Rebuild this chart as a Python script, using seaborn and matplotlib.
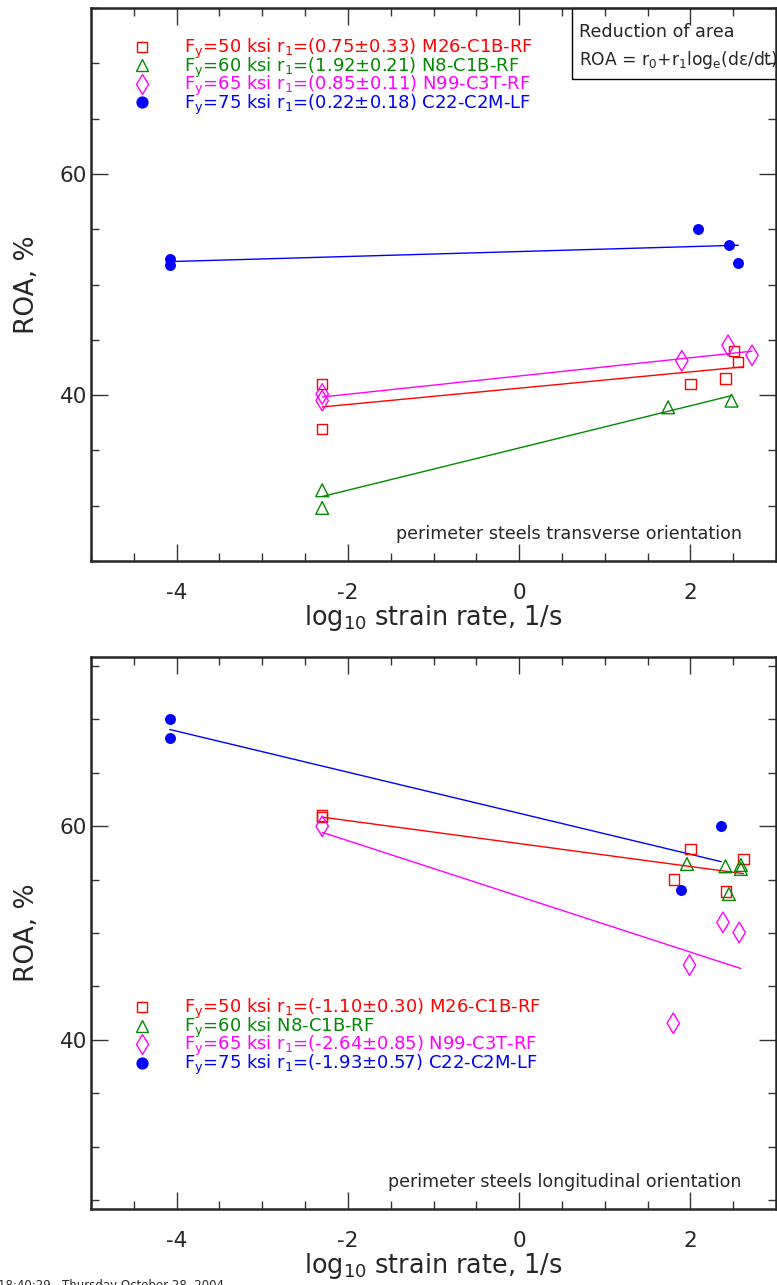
"""ROA vs log10 strain rate, perimeter steels (transverse / longitudinal)."""
import matplotlib
matplotlib.use("Agg")
import matplotlib.pyplot as plt
import seaborn as sns
from matplotlib.lines import Line2D
from matplotlib.patches import Rectangle
from matplotlib.ticker import MultipleLocator

# ---- data ----
# transverse orientation (top panel)
tr_x_50 = [-2.30, -2.30, 2.00, 2.41, 2.51, 2.56]
tr_y_50 = [40.98, 36.96, 40.98, 41.50, 44.0, 43.0]
tr_x_60 = [-2.30, -2.30, 1.74, 2.48]
tr_y_60 = [31.4, 29.8, 38.9, 39.5]
tr_x_65 = [-2.30, -2.30, 1.90, 2.44, 2.72]
tr_y_65 = [40.1, 39.5, 43.1, 44.5, 43.6]
tr_x_75 = [-4.08, -4.08, 2.09, 2.45, 2.56]
tr_y_75 = [52.28, 51.74, 55.0, 53.58, 51.98]

tr_fit_x_50, tr_fit_y_50 = [-2.30, 2.61], [38.93, 42.55]
tr_fit_x_60, tr_fit_y_60 = [-2.30, 2.48], [30.83, 39.95]
tr_fit_x_65, tr_fit_y_65 = [-2.30, 2.72], [39.83, 43.97]
tr_fit_x_75, tr_fit_y_75 = [-4.08, 2.56], [52.07, 53.55]

# longitudinal orientation (bottom panel)
lo_x_50 = [-2.30, -2.30, 2.00, 1.81, 2.62, 2.42]
lo_y_50 = [61.0, 60.85, 57.9, 55.0, 56.9, 53.9]
lo_x_60 = [1.96, 2.41, 2.59, 2.59, 2.45]
lo_y_60 = [56.46, 56.25, 56.37, 56.0, 53.65]
lo_x_65 = [-2.30, 2.38, 2.57, 1.99, 1.80]
lo_y_65 = [60.0, 51.0, 50.05, 47.0, 41.55]
lo_x_75 = [-4.08, -4.08, 2.36, 1.89]
lo_y_75 = [70.06, 68.3, 60.0, 53.99]

lo_fit_x_50, lo_fit_y_50 = [-2.30, 2.62], [60.85, 55.56]
lo_fit_x_65, lo_fit_y_65 = [-2.30, 2.59], [59.43, 46.67]
lo_fit_x_75, lo_fit_y_75 = [-4.08, 2.36], [69.06, 56.68]

tr_labels = [
    "F$_y$=50 ksi r$_1$=(0.75±0.33) M26-C1B-RF",
    "F$_y$=60 ksi r$_1$=(1.92±0.21) N8-C1B-RF",
    "F$_y$=65 ksi r$_1$=(0.85±0.11) N99-C3T-RF",
    "F$_y$=75 ksi r$_1$=(0.22±0.18) C22-C2M-LF",
]
lo_labels = [
    "F$_y$=50 ksi r$_1$=(-1.10±0.30) M26-C1B-RF",
    "F$_y$=60 ksi N8-C1B-RF",
    "F$_y$=65 ksi r$_1$=(-2.64±0.85) N99-C3T-RF",
    "F$_y$=75 ksi r$_1$=(-1.93±0.57) C22-C2M-LF",
]

COLORS = ["#ff0000", "#008a00", "#ff00ff", "#0000ff"]
MARKERS = ["s", "^", "d", "o"]
SIZES = [55, 85, 110, 62]
FILLED = [False, False, False, True]
MS = [7.4, 9.2, 10.5, 7.8]

sns.set_style("ticks")
plt.rcParams["font.family"] = ["DejaVu Sans"]
plt.rcParams["mathtext.default"] = "regular"
plt.rcParams["axes.unicode_minus"] = False


def draw_series(ax, xs, ys, i):
    c = COLORS[i]
    if FILLED[i]:
        sns.scatterplot(x=xs, y=ys, ax=ax, color=c, marker=MARKERS[i], s=SIZES[i],
                        edgecolor=c, linewidth=0, legend=False, zorder=3)
    else:
        sns.scatterplot(x=xs, y=ys, ax=ax, color=c, marker=MARKERS[i], s=SIZES[i],
                        facecolors="none", edgecolor=c, linewidth=1.0,
                        legend=False, zorder=3)


def draw_fit(ax, fx, fy, i):
    sns.lineplot(x=fx, y=fy, ax=ax, color=COLORS[i], linewidth=1.0, legend=False)


def style_axes(ax, ylim):
    ax.set_xlim(-5, 3)
    ax.set_ylim(*ylim)
    ax.xaxis.set_major_locator(MultipleLocator(2))
    ax.xaxis.set_minor_locator(MultipleLocator(0.5))
    ax.yaxis.set_major_locator(MultipleLocator(20))
    ax.yaxis.set_minor_locator(MultipleLocator(5))
    ax.tick_params(which="both", direction="in", top=True, right=True,
                   width=1.0, color="#333333")
    ax.tick_params(which="major", length=12, labelsize=15.5)
    ax.tick_params(axis="x", which="major", pad=16)
    ax.tick_params(axis="y", which="major", pad=3)
    ax.tick_params(which="minor", length=6)
    for sp in ax.spines.values():
        sp.set_linewidth(1.8)
        sp.set_visible(True)
    ax.set_xlabel("log$_{10}$ strain rate, 1/s", fontsize=18.4, labelpad=0)
    ax.set_ylabel("ROA, %", fontsize=19, labelpad=14)


def add_legend(ax, labels, y_top):
    handles = []
    for i in range(4):
        handles.append(Line2D([], [], ls="none", marker=MARKERS[i], ms=MS[i],
                              mfc=COLORS[i] if FILLED[i] else "none",
                              mec=COLORS[i], mew=1.0))
    ax.legend(handles, labels, loc="upper left", bbox_to_anchor=(0.061, y_top),
              frameon=False, fontsize=13, labelcolor=COLORS, handlelength=1.0,
              handletextpad=1.85, labelspacing=-0.31, borderpad=0, borderaxespad=0)


fig = plt.figure(figsize=(7.77, 12.85), dpi=100)
ax_top = fig.add_axes([91 / 777, 1 - 561 / 1285, 685 / 777, 553 / 1285])
ax_bot = fig.add_axes([91 / 777, 1 - 1209 / 1285, 685 / 777, 552 / 1285])

# top panel
for i, (xs, ys) in enumerate([(tr_x_50, tr_y_50), (tr_x_60, tr_y_60),
                              (tr_x_65, tr_y_65), (tr_x_75, tr_y_75)]):
    draw_series(ax_top, xs, ys, i)
for i, (fx, fy) in enumerate([(tr_fit_x_50, tr_fit_y_50), (tr_fit_x_60, tr_fit_y_60),
                              (tr_fit_x_65, tr_fit_y_65), (tr_fit_x_75, tr_fit_y_75)]):
    draw_fit(ax_top, fx, fy, i)
style_axes(ax_top, (25, 75))
add_legend(ax_top, tr_labels, 0.948)
ax_top.text(0.95, 0.049, "perimeter steels transverse orientation", transform=ax_top.transAxes,
            ha="right", va="center", fontsize=12.6)

ax_top.add_patch(Rectangle((0.702, 0.872), 0.4, 0.128, transform=ax_top.transAxes,
                           fill=False, lw=1.0, ec="black", clip_on=False))
ax_top.text(0.713, 1 - 24 / 553, "Reduction of area", transform=ax_top.transAxes,
            ha="left", va="center", fontsize=12.6)
ax_top.text(0.713, 1 - 52 / 553, "ROA = r$_0$+r$_1$log$_e$(dε/dt)",
            transform=ax_top.transAxes, ha="left", va="center", fontsize=12.3)

# bottom panel
for i, (xs, ys) in enumerate([(lo_x_50, lo_y_50), (lo_x_60, lo_y_60),
                              (lo_x_65, lo_y_65), (lo_x_75, lo_y_75)]):
    draw_series(ax_bot, xs, ys, i)
for i, (fx, fy) in [(0, (lo_fit_x_50, lo_fit_y_50)), (2, (lo_fit_x_65, lo_fit_y_65)),
                    (3, (lo_fit_x_75, lo_fit_y_75))]:
    draw_fit(ax_bot, fx, fy, i)
style_axes(ax_bot, (24.15, 75.85))
add_legend(ax_bot, lo_labels, 0.384)
ax_bot.text(0.95, 0.049, "perimeter steels longitudinal orientation", transform=ax_bot.transAxes,
            ha="right", va="center", fontsize=12.5)

fig.text(-0.003, 1 - 1279 / 1285, "18:40:29   Thursday October 28, 2004",
         ha="left", va="top", fontsize=8.5)

fig.savefig("out.png", dpi=100)
